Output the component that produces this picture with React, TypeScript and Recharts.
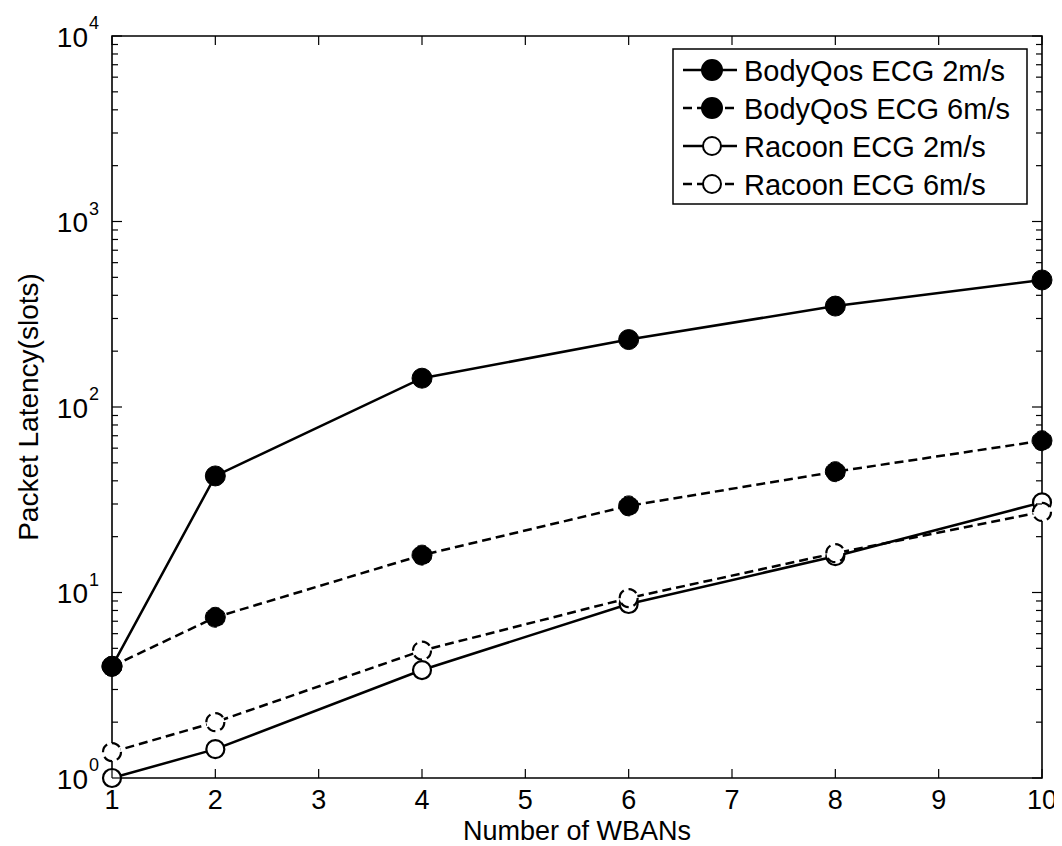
import { LineChart, Line, XAxis, YAxis, ReferenceArea } from "recharts";

const wbans = [1, 2, 4, 6, 8, 10];
const bodyQos2 = [4, 42.5, 143, 231, 350, 484];
const bodyQos6 = [4, 7.35, 15.9, 29.3, 44.8, 65.8];
const racoon2 = [1, 1.43, 3.82, 8.67, 15.7, 30.6];
const racoon6 = [1.38, 2.0, 4.86, 9.33, 16.3, 27.2];

const xTicks = [1, 2, 3, 4, 5, 6, 7, 8, 9, 10];
const decades = [0, 1, 2, 3];
const yTicks = [...decades.flatMap((d) => [1, 2, 3, 4, 5, 6, 7, 8, 9].map((m) => m * 10 ** d)), 10000];

const seriesNames = [
  "BodyQos ECG 2m/s",
  "BodyQoS ECG 6m/s",
  "Racoon ECG 2m/s",
  "Racoon ECG 6m/s",
];

const data = wbans.map((x, i) => ({
  x,
  bq2: bodyQos2[i],
  bq6: bodyQos6[i],
  rc2: racoon2[i],
  rc6: racoon6[i],
}));

const FONT = "Arial, 'Liberation Sans', Helvetica, sans-serif";
const W = 1054;
const H = 838;
const LEFT = 104;
const RIGHT = 1034;
const TOP = 28;
const BOTTOM = 770;

function XTick({ x, payload }: any) {
  return (
    <g>
      <line x1={x} x2={x} y1={BOTTOM} y2={BOTTOM - 9} stroke="#000" strokeWidth={1.2} />
      <line x1={x} x2={x} y1={TOP} y2={TOP + 9} stroke="#000" strokeWidth={1.2} />
      <text x={x} y={792} textAnchor="middle" dominantBaseline="central" fontSize={27} fontFamily={FONT} fill="#000">
        {payload.value}
      </text>
    </g>
  );
}

function YTick({ y, payload }: any) {
  const exp = Math.log10(payload.value);
  const major = Math.abs(exp - Math.round(exp)) < 1e-9;
  const len = major ? 10 : 6;
  return (
    <g>
      <line x1={LEFT} x2={LEFT + len} y1={y} y2={y} stroke="#000" strokeWidth={1.2} />
      <line x1={RIGHT} x2={RIGHT - len} y1={y} y2={y} stroke="#000" strokeWidth={1.2} />
      {major && (
        <g fontFamily={FONT} fill="#000">
          <text x={80} y={y + 1} textAnchor="end" dominantBaseline="central" fontSize={28}>
            10
          </text>
          <text x={81} y={y - 13} textAnchor="start" dominantBaseline="central" fontSize={18}>
            {Math.round(exp)}
          </text>
        </g>
      )}
    </g>
  );
}

function LegendBox() {
  const rows = [
    { name: seriesNames[0], filled: true, dashed: false },
    { name: seriesNames[1], filled: true, dashed: true },
    { name: seriesNames[2], filled: false, dashed: false },
    { name: seriesNames[3], filled: false, dashed: true },
  ];
  return (
    <svg width={356} height={157} style={{ display: "block" }}>
      <rect x={1} y={1} width={354} height={155} fill="#fff" stroke="#000" strokeWidth={1.5} />
      {rows.map((r, i) => {
        const cy = 22 + i * 38;
        return (
          <g key={r.name}>
            <line
              x1={11}
              x2={65}
              y1={cy}
              y2={cy}
              stroke="#000"
              strokeWidth={2.5}
              strokeDasharray={r.dashed ? "9 5" : undefined}
            />
            <circle cx={40} cy={cy} r={r.filled ? 10 : 9} fill={r.filled ? "#000" : "#fff"} stroke="#000" strokeWidth={2} />
            <text x={72} y={cy + 1} dominantBaseline="central" fontSize={29} fontFamily={FONT} fill="#000">
              {r.name}
            </text>
          </g>
        );
      })}
    </svg>
  );
}

const filledDot = { r: 10, fill: "#000", stroke: "#000", strokeWidth: 1 };
const openDot = { r: 9, fill: "#fff", stroke: "#000", strokeWidth: 2.2 };

export default function App() {
  return (
    <div style={{ position: "relative", width: W, height: H, fontFamily: FONT }}>
      <LineChart width={W} height={H} data={data} margin={{ top: TOP, right: W - RIGHT, left: 0, bottom: 0 }}>
        <ReferenceArea x1={1} x2={10} y1={1} y2={10000} fill="none" stroke="#000" strokeWidth={1.6} />
        <XAxis
          dataKey="x"
          type="number"
          domain={[1, 10]}
          ticks={xTicks}
          interval={0}
          height={H - BOTTOM}
          axisLine={false}
          tickLine={false}
          tick={<XTick />}
          label={{
            content: () => (
              <text x={(LEFT + RIGHT) / 2} y={823} textAnchor="middle" dominantBaseline="central" fontSize={27} fontFamily={FONT} fill="#000">
                Number of WBANs
              </text>
            ),
          }}
        />
        <YAxis
          type="number"
          scale="log"
          domain={[1, 10000]}
          ticks={yTicks}
          interval={0}
          width={LEFT}
          axisLine={false}
          tickLine={false}
          tick={<YTick />}
          label={{
            content: () => (
              <text
                x={20}
                y={399}
                transform="rotate(-90 20 399)"
                textAnchor="middle"
                dominantBaseline="central"
                fontSize={28}
                fontFamily={FONT}
                fill="#000"
              >
                Packet Latency(slots)
              </text>
            ),
          }}
        />
        <Line type="linear" dataKey="bq2" name={seriesNames[0]} stroke="#000" strokeWidth={2.5} dot={filledDot} isAnimationActive={false} />
        <Line type="linear" dataKey="bq6" name={seriesNames[1]} stroke="#000" strokeWidth={2.5} strokeDasharray="9 5" dot={filledDot} isAnimationActive={false} />
        <Line type="linear" dataKey="rc2" name={seriesNames[2]} stroke="#000" strokeWidth={2.5} dot={openDot} isAnimationActive={false} />
        <Line type="linear" dataKey="rc6" name={seriesNames[3]} stroke="#000" strokeWidth={2.5} strokeDasharray="9 5" dot={openDot} isAnimationActive={false} />
      </LineChart>
      <div style={{ position: "absolute", left: 664, top: 40 }}>
        <LegendBox />
      </div>
    </div>
  );
}
